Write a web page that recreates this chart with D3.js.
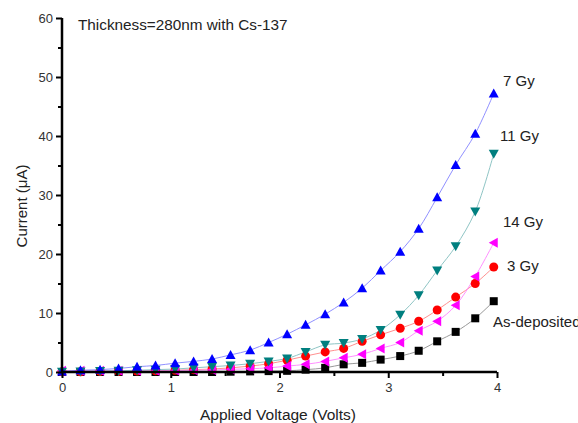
<!DOCTYPE html>
<html>
<head>
<meta charset="utf-8">
<script src="https://cdn.jsdelivr.net/npm/d3@7"></script>
<style>
  body { margin: 0; background: #fff; }
  svg { display: block; font-family: "Liberation Sans", Arial, sans-serif; }
</style>
</head>
<body>
<svg id="chart" width="578" height="423"></svg>
<script>
// voltage steps
const volts = [0, 0.17, 0.35, 0.52, 0.69, 0.86, 1.04, 1.21, 1.38, 1.55, 1.73, 1.90,
               2.07, 2.24, 2.42, 2.59, 2.76, 2.93, 3.11, 3.28, 3.45, 3.62, 3.80, 3.97];

const gy7 = [0.1, 0.3, 0.4, 0.6, 0.9, 1.1, 1.5, 1.8, 2.2, 2.9, 3.7, 5.0,
             6.4, 8.0, 9.8, 11.8, 14.2, 17.2, 20.4, 24.3, 29.6, 35.1, 40.4, 47.2];
const gy11 = [0.05, 0.1, 0.15, 0.2, 0.3, 0.4, 0.5, 0.7, 0.9, 1.1, 1.4, 1.8,
              2.3, 3.4, 4.6, 4.9, 5.6, 7.1, 9.7, 13.0, 17.2, 21.3, 27.2, 37.0];
const gy14 = [0.2, 0.2, 0.2, 0.2, 0.2, 0.2, 0.25, 0.3, 0.35, 0.45, 0.55, 0.7,
              1.0, 1.3, 1.8, 2.4, 3.0, 4.0, 5.0, 7.0, 8.6, 11.3, 16.2, 21.9];
const gy3 = [0.05, 0.05, 0.1, 0.1, 0.15, 0.2, 0.3, 0.4, 0.5, 0.7, 1.0, 1.4,
             2.0, 2.7, 3.4, 4.0, 5.2, 6.3, 7.4, 8.6, 10.5, 12.7, 15.0, 17.8];
const asDep = [0, 0, 0, 0, 0, 0, 0, 0, 0, 0.05, 0.1, 0.15,
               0.2, 0.4, 0.7, 1.3, 1.55, 2.1, 2.7, 3.6, 5.2, 6.8, 9.1, 12.0];

const seriesNames = ["As-deposited", "3 Gy", "14 Gy", "11 Gy", "7 Gy"];
const seriesValues = [asDep, gy3, gy14, gy11, gy7];
const seriesColors = ["#000000", "#ff0000", "#ff00ff", "#007f7f", "#0000ff"];
const lineColors = ["#999999", "#ff9090", "#ff90ff", "#8fc5c5", "#9090ff"];
const seriesSymbols = ["square", "circle", "left", "down", "up"];

const xTicks = [0, 1, 2, 3, 4];
const yTicks = [0, 10, 20, 30, 40, 50, 60];

const svg = d3.select('#chart');
const mLeft = 62, mRight = 497, mTop = 18, mBottom = 372;

const x = d3.scaleLinear().domain([0, 4]).range([mLeft, mRight]);
const y = d3.scaleLinear().domain([0, 60]).range([mBottom, mTop]);

// lines
const line = d3.line()
    .x((d) => x(d[0]))
    .y((d) => y(d[1]))
    .curve(d3.curveCatmullRom);

seriesValues.forEach((vals, i) => {
    let pts = volts.map((v, j) => [v, vals[j]]);
    svg.append('path')
        .attr('d', line(pts))
        .attr('fill', 'none')
        .attr('stroke', lineColors[i])
        .attr('stroke-width', 1);
});

// markers
function symbolPath(kind, cx, cy) {
    const s = 4.5;
    if (kind === 'up') return `M${cx},${cy - s - 0.5}L${cx + s + 0.5},${cy + s - 0.5}L${cx - s - 0.5},${cy + s - 0.5}Z`;
    if (kind === 'down') return `M${cx},${cy + s + 0.5}L${cx + s + 0.5},${cy - s + 0.5}L${cx - s - 0.5},${cy - s + 0.5}Z`;
    if (kind === 'left') return `M${cx - s - 0.5},${cy}L${cx + s - 0.5},${cy - s - 0.5}L${cx + s - 0.5},${cy + s + 0.5}Z`;
    return null;
}

seriesValues.forEach((vals, i) => {
    let g = svg.append('g').attr('fill', seriesColors[i]);
    volts.forEach((v, j) => {
        let cx = x(v), cy = y(vals[j]);
        if (seriesSymbols[i] === 'square') {
            g.append('rect').attr('x', cx - 4).attr('y', cy - 4).attr('width', 8).attr('height', 8);
        } else if (seriesSymbols[i] === 'circle') {
            g.append('circle').attr('cx', cx).attr('cy', cy).attr('r', 4.5);
        } else {
            g.append('path').attr('d', symbolPath(seriesSymbols[i], cx, cy));
        }
    });
});

// axes
const xAxis = svg.append('g').attr('transform', `translate(0,${mBottom})`)
    .call(d3.axisBottom(x).tickValues(xTicks).tickFormat(d3.format('d')).tickSize(6).tickPadding(5));
svg.append('g').attr('transform', `translate(0,${mBottom})`)
    .call(d3.axisBottom(x).tickValues([0.5, 1.5, 2.5, 3.5]).tickFormat('').tickSize(4))
    .select('.domain').remove();

const yAxis = svg.append('g').attr('transform', `translate(${mLeft},0)`)
    .call(d3.axisLeft(y).tickValues(yTicks).tickSize(6).tickPadding(3));
svg.append('g').attr('transform', `translate(${mLeft},0)`)
    .call(d3.axisLeft(y).tickValues([5, 15, 25, 35, 45, 55]).tickFormat('').tickSize(4))
    .select('.domain').remove();

svg.selectAll('.domain').attr('stroke', '#000').attr('stroke-width', 2.5);
svg.selectAll('.tick line').attr('stroke', '#000').attr('stroke-width', 2);
svg.selectAll('.tick text').attr('font-size', 13).attr('fill', '#333')
    .attr('font-family', '"Liberation Sans", Arial, sans-serif');
xAxis.selectAll('.domain').attr('d', `M${mLeft},0H${mRight}`);
yAxis.selectAll('.domain').attr('d', `M0,${mBottom}V${mTop}`);

// titles
svg.append('text')
    .attr('x', 278).attr('y', 420)
    .attr('text-anchor', 'middle').attr('font-size', 15.5).attr('fill', '#222')
    .text('Applied Voltage (Volts)');

svg.append('text')
    .attr('transform', 'translate(27,206) rotate(-90)')
    .attr('text-anchor', 'middle').attr('font-size', 15).attr('fill', '#222')
    .text('Current (μA)');

svg.append('text')
    .attr('x', 78).attr('y', 30)
    .attr('font-size', 15.3).attr('fill', '#222')
    .text('Thickness=280nm with Cs-137');

// series labels
const labelPos = [[493, 327], [507, 271], [503, 227], [500, 141], [503, 86]];
seriesNames.forEach((name, i) => {
    svg.append('text')
        .attr('x', labelPos[i][0]).attr('y', labelPos[i][1])
        .attr('font-size', 15).attr('fill', '#222')
        .text(name);
});
</script>
</body>
</html>
